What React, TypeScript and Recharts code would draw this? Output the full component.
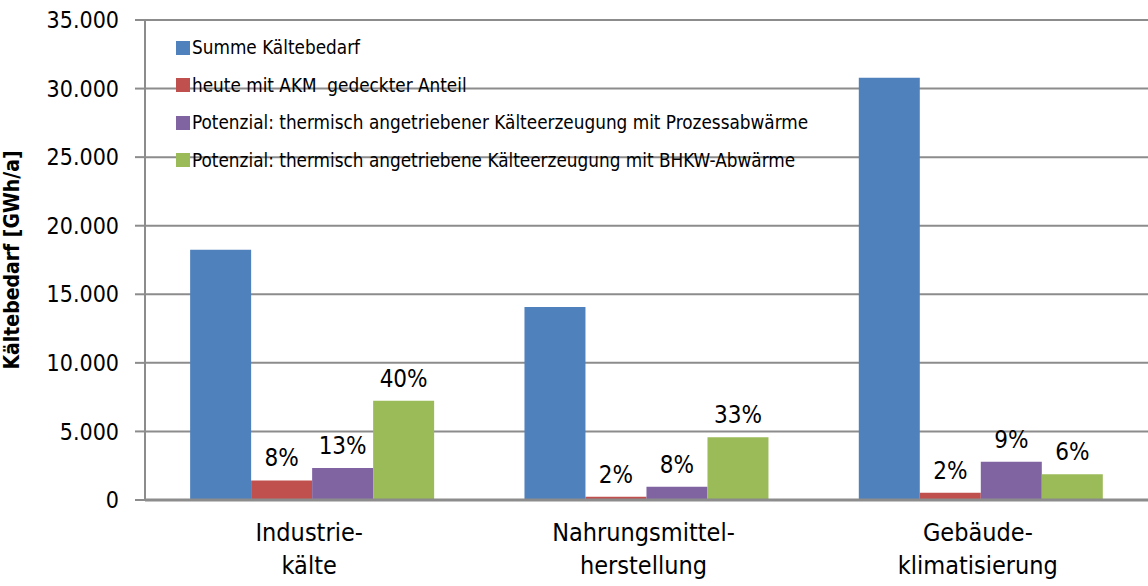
import React from "react"
import { BarChart, Bar, XAxis, YAxis, CartesianGrid, LabelList } from "recharts"

const categories = [
  ["Industrie-", "kälte"],
  ["Nahrungsmittel-", "herstellung"],
  ["Gebäude-", "klimatisierung"],
]
const summe = [18250, 14080, 30780]
const akm = [1430, 230, 520]
const prozess = [2340, 960, 2780]
const bhkw = [7230, 4570, 1870]
const akmPct = ["8%", "2%", "2%"]
const prozessPct = ["13%", "8%", "9%"]
const bhkwPct = ["40%", "33%", "6%"]
const yTicks = [0, 5000, 10000, 15000, 20000, 25000, 30000, 35000]

const SERIES = [
  { key: "summe", name: "Summe Kältebedarf", color: "#4F81BD" },
  { key: "akm", name: "heute mit AKM  gedeckter Anteil", color: "#C0504D" },
  { key: "prozess", name: "Potenzial: thermisch angetriebener Kälteerzeugung mit Prozessabwärme", color: "#8064A2" },
  { key: "bhkw", name: "Potenzial: thermisch angetriebene Kälteerzeugung mit BHKW-Abwärme", color: "#9BBB59" },
]

const FONT = "'Liberation Sans Narrow', 'DejaVu Sans Condensed', sans-serif"

const data = categories.map((c, i) => ({
  name: c.join(""),
  summe: summe[i],
  akm: akm[i],
  prozess: prozess[i],
  bhkw: bhkw[i],
  akmPct: akmPct[i],
  prozessPct: prozessPct[i],
  bhkwPct: bhkwPct[i],
}))

const fmt = (v: number) => v.toLocaleString("de-DE")

function CatTick({ x, y, payload }: any) {
  const lines = categories[payload.index] ?? []
  return (
    <text x={x - 3} y={y} textAnchor="middle" fontFamily={FONT} fontSize={25} fill="#000">
      {lines.map((l, i) => (
        <tspan key={i} x={x - 3} dy={33}>{l}</tspan>
      ))}
    </text>
  )
}

function LegendBox() {
  return (
    <div style={{ position: "absolute", left: 176, top: 29, fontFamily: FONT, fontSize: 18.8, color: "#000" }}>
      {SERIES.map((s) => (
        <div key={s.key} style={{ display: "flex", alignItems: "center", height: 37.5, whiteSpace: "pre" }}>
          <span style={{ width: 14, height: 14, background: s.color, marginRight: 2, display: "inline-block" }} />
          {s.name}
        </div>
      ))}
    </div>
  )
}

const labelStyle = { fontFamily: FONT, fontSize: 24, fill: "#000" }

export default function App() {
  return (
    <div style={{ position: "absolute", left: 0, top: 0, width: 1148, height: 586, background: "#fff" }}>
      <BarChart width={1148} height={586} data={data} margin={{ top: 20, right: 0, left: 0, bottom: 0 }}
        barCategoryGap="13.5%" barGap={0}>
        <CartesianGrid vertical={false} stroke="#8c8c8c" strokeWidth={2} />
        <XAxis dataKey="name" height={86} tick={<CatTick />} tickLine={false}
          axisLine={{ stroke: "#8c8c8c", strokeWidth: 3 }} interval={0} />
        <YAxis width={145} domain={[0, 35000]} ticks={yTicks} tickFormatter={fmt} interval={0}
          tick={{ fontFamily: FONT, fontSize: 23, fill: "#000" }} tickSize={10} tickMargin={16}
          tickLine={{ stroke: "#8c8c8c", strokeWidth: 2 }} axisLine={{ stroke: "#8c8c8c", strokeWidth: 2 }}
          label={{ value: "Kältebedarf [GWh/a]", angle: -90, position: "insideLeft", offset: 12,
            style: { fontFamily: FONT, fontSize: 21, fontWeight: "bold", fill: "#000", textAnchor: "middle" } }} />
        <Bar dataKey="summe" fill={SERIES[0].color} isAnimationActive={false} />
        <Bar dataKey="akm" fill={SERIES[1].color} isAnimationActive={false}>
          <LabelList dataKey="akmPct" position="top" offset={14} style={labelStyle} />
        </Bar>
        <Bar dataKey="prozess" fill={SERIES[2].color} isAnimationActive={false}>
          <LabelList dataKey="prozessPct" position="top" offset={14} style={labelStyle} />
        </Bar>
        <Bar dataKey="bhkw" fill={SERIES[3].color} isAnimationActive={false}>
          <LabelList dataKey="bhkwPct" position="top" offset={14} style={labelStyle} />
        </Bar>
      </BarChart>
      <LegendBox />
    </div>
  )
}
